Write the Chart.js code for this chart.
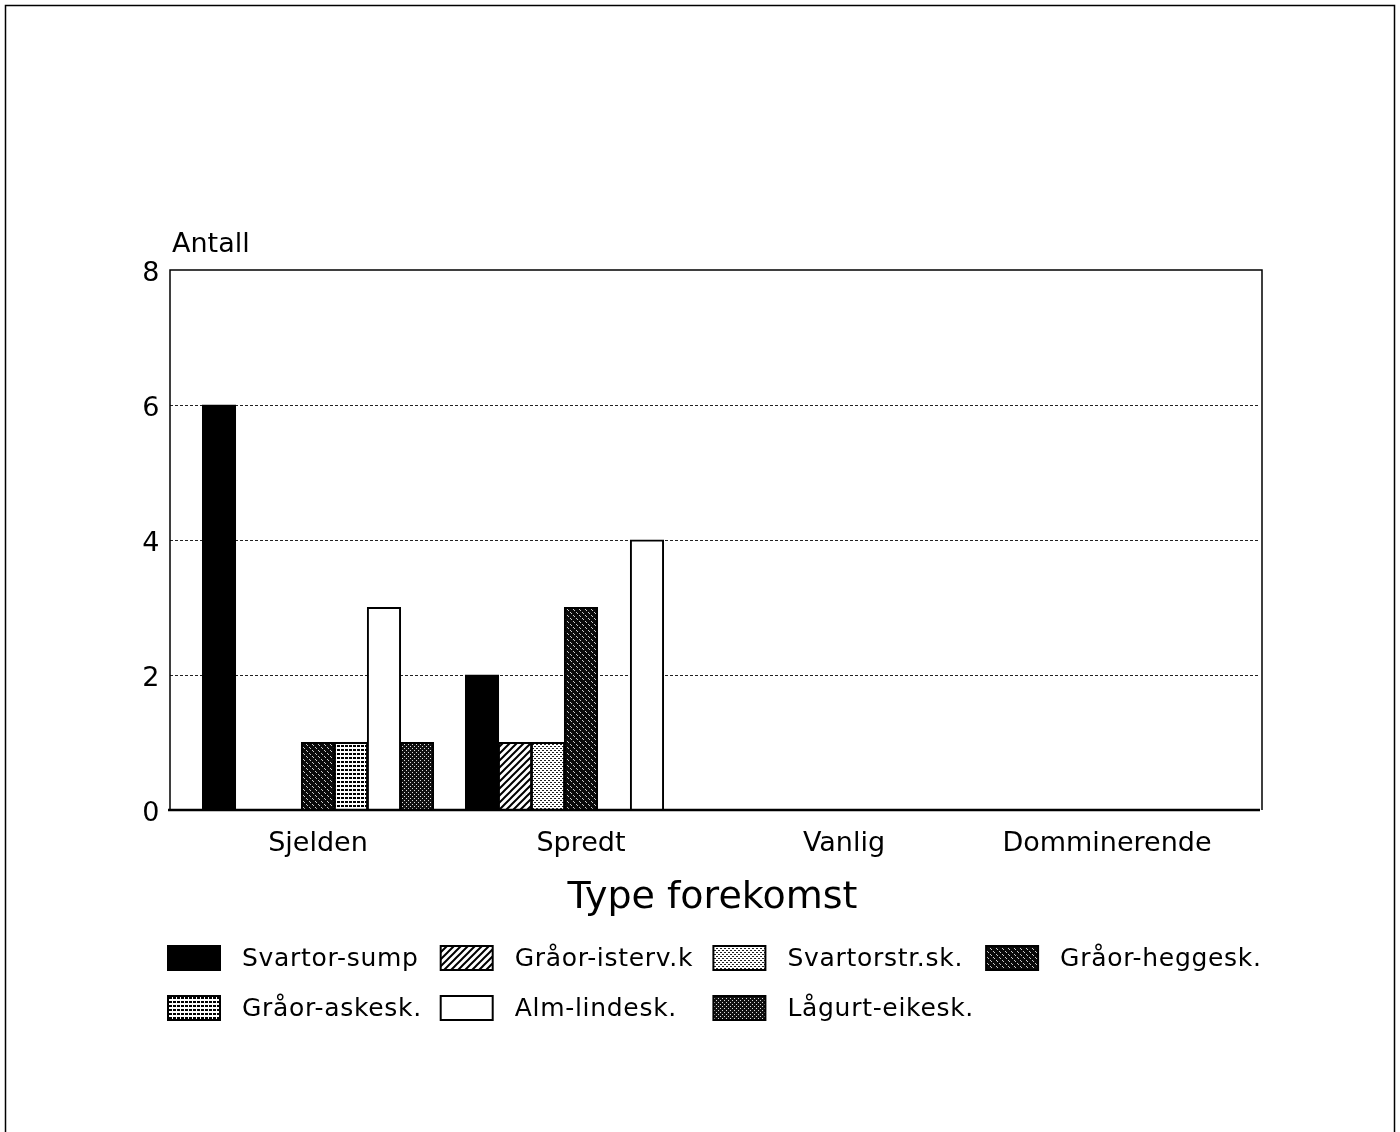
<!DOCTYPE html>
<html>
<head>
<meta charset="utf-8">
<script src="https://cdn.jsdelivr.net/npm/chart.js@4.4.0/dist/chart.umd.min.js"></script>
<style>
  body { margin: 0; background: #fff; }
  canvas { display: block; }
</style>
</head>
<body>
<canvas id="chartCanvas" width="1400" height="1132"></canvas>
<script>
// Data
const categories = ['Sjelden', 'Spredt', 'Vanlig', 'Domminerende'];
const seriesLabels = ['Svartor-sump', 'Gråor-isterv.k', 'Svartorstr.sk.', 'Gråor-heggesk.',
                      'Gråor-askesk.', 'Alm-lindesk.', 'Lågurt-eikesk.'];
const svartorSump  = [6, 2, 0, 0];
const graorIsterv  = [0, 1, 0, 0];
const svartorstr   = [0, 1, 0, 0];
const graorHegge   = [1, 3, 0, 0];
const graorAske    = [1, 0, 0, 0];
const almLinde     = [3, 4, 0, 0];
const lagurtEike   = [1, 0, 0, 0];
const yTicks = [0, 2, 4, 6, 8];
const yTitle = 'Antall';
const xTitle = 'Type forekomst';

const FONT = "'DejaVu Sans', sans-serif";

// Fyllmønstre
function makePattern(kind) {
  const c = document.createElement('canvas');
  const g = c.getContext('2d');
  if (kind === 'solid') return '#000';
  if (kind === 'white') return '#fff';
  if (kind === 'diag') {
    c.width = 7; c.height = 7;
    g.fillStyle = '#fff'; g.fillRect(0, 0, 7, 7);
    g.strokeStyle = '#000'; g.lineWidth = 2;
    g.beginPath();
    g.moveTo(-1, 8); g.lineTo(8, -1);
    g.moveTo(-4, 4); g.lineTo(4, -4);
    g.moveTo(3, 11); g.lineTo(11, 3);
    g.stroke();
  } else if (kind === 'lightdots') {
    c.width = 4; c.height = 4;
    g.fillStyle = '#fff'; g.fillRect(0, 0, 4, 4);
    g.fillStyle = '#222';
    g.fillRect(0, 0, 2, 1); g.fillRect(2, 2, 2, 1);
  } else if (kind === 'darkdiag') {
    c.width = 6; c.height = 6;
    g.fillStyle = '#0a0a0a'; g.fillRect(0, 0, 6, 6);
    g.fillStyle = '#ccc';
    g.fillRect(0, 0, 1, 1); g.fillRect(1, 1, 1, 1); g.fillRect(3, 3, 1, 1); g.fillRect(4, 4, 1, 1);
  } else if (kind === 'grid') {
    c.width = 4; c.height = 4;
    g.fillStyle = '#fff'; g.fillRect(0, 0, 4, 4);
    g.fillStyle = '#000'; g.fillRect(1, 1, 3, 2);
  } else if (kind === 'darkdots') {
    c.width = 4; c.height = 4;
    g.fillStyle = '#111'; g.fillRect(0, 0, 4, 4);
    g.fillStyle = '#ddd';
    g.fillRect(0, 0, 1, 1); g.fillRect(2, 2, 1, 1);
  }
  return g.createPattern(c, 'repeat');
}

const fills = ['solid', 'diag', 'lightdots', 'darkdiag', 'grid', 'white', 'darkdots'].map(makePattern);
const seriesValues = [svartorSump, graorIsterv, svartorstr, graorHegge, graorAske, almLinde, lagurtEike];

// Ramme, rutenett, aksetittel og forklaring
const framePlugin = {
  id: 'frame',
  beforeDatasetsDraw(chart) {
    const { ctx, chartArea: a, scales } = chart;
    const left = a.left - 16.5, right = a.right + 23.5;
    ctx.save();
    ctx.strokeStyle = '#222';
    ctx.lineWidth = 1;
    ctx.setLineDash([3, 2]);
    yTicks.forEach(v => {
      if (v === 0 || v === yTicks[yTicks.length - 1]) return;
      const y = Math.round(scales.y.getPixelForValue(v)) + 0.5;
      ctx.beginPath(); ctx.moveTo(left, y); ctx.lineTo(right - 4, y); ctx.stroke();
    });
    ctx.restore();
  },
  afterDatasetsDraw(chart) {
    const { ctx, chartArea: a } = chart;
    const left = a.left - 16.5, right = a.right + 23.5;
    ctx.save();
    ctx.strokeStyle = '#000';
    ctx.lineWidth = 1.5;
    ctx.beginPath();
    ctx.moveTo(left, a.bottom); ctx.lineTo(left, a.top); ctx.lineTo(right, a.top); ctx.lineTo(right, a.bottom);
    ctx.stroke();
    ctx.lineWidth = 2.5;
    ctx.beginPath(); ctx.moveTo(left - 2, a.bottom); ctx.lineTo(right - 2, a.bottom); ctx.stroke();

    // ytre ramme
    ctx.lineWidth = 1.5;
    ctx.strokeRect(5.5, 5.5, 1389, 1160);

    // y-tittel
    ctx.fillStyle = '#000';
    ctx.font = '27px ' + FONT;
    ctx.textAlign = 'left';
    ctx.textBaseline = 'alphabetic';
    ctx.fillText(yTitle, left + 2, a.top - 18);

    // forklaring
    ctx.font = '25px ' + FONT;
    ctx.letterSpacing = '0.7px';
    ctx.textBaseline = 'middle';
    chart.data.datasets.forEach((ds, i) => {
      const col = i % 4, row = Math.floor(i / 4);
      const bx = 168 + col * 272.7, by = 946 + row * 50;
      ctx.fillStyle = ds.backgroundColor;
      ctx.fillRect(bx, by, 52, 24);
      ctx.lineWidth = 2;
      ctx.strokeStyle = '#000';
      ctx.strokeRect(bx, by, 52, 24);
      ctx.fillStyle = '#000';
      ctx.fillText(ds.label, bx + 74, by + 13);
    });
    ctx.restore();
  }
};

const ctx = document.getElementById('chartCanvas').getContext('2d');
const chart = new Chart(ctx, {
  type: 'bar',
  data: {
    labels: categories,
    datasets: seriesLabels.map((label, i) => ({
      label: label,
      data: seriesValues[i],
      backgroundColor: fills[i],
      borderColor: '#000',
      borderWidth: 2,
      borderSkipped: 'bottom',
      inflateAmount: 0.6,
      categoryPercentage: 0.878,
      barPercentage: 1
    }))
  },
  options: {
    responsive: false,
    animation: false,
    layout: { padding: { left: 0, right: 161.5, top: 270, bottom: 209 } },
    plugins: {
      legend: { display: false },
      tooltip: { enabled: false }
    },
    scales: {
      x: {
        grid: { display: false },
        border: { display: false },
        ticks: { color: '#000', font: { family: FONT, size: 27 }, padding: 10 },
        title: { display: true, text: xTitle, color: '#000', font: { family: FONT, size: 38 }, padding: 2 },
        afterFit(scale) { scale.height = 113; }
      },
      y: {
        min: yTicks[0],
        max: yTicks[yTicks.length - 1],
        afterBuildTicks(scale) { scale.ticks = yTicks.map(v => ({ value: v })); },
        grid: { display: false },
        border: { display: false },
        ticks: { color: '#000', font: { family: FONT, size: 27 }, padding: 19, labelOffset: 4 },
        afterFit(scale) { scale.width = 186.5; }
      }
    }
  },
  plugins: [framePlugin]
});
</script>
</body>
</html>
